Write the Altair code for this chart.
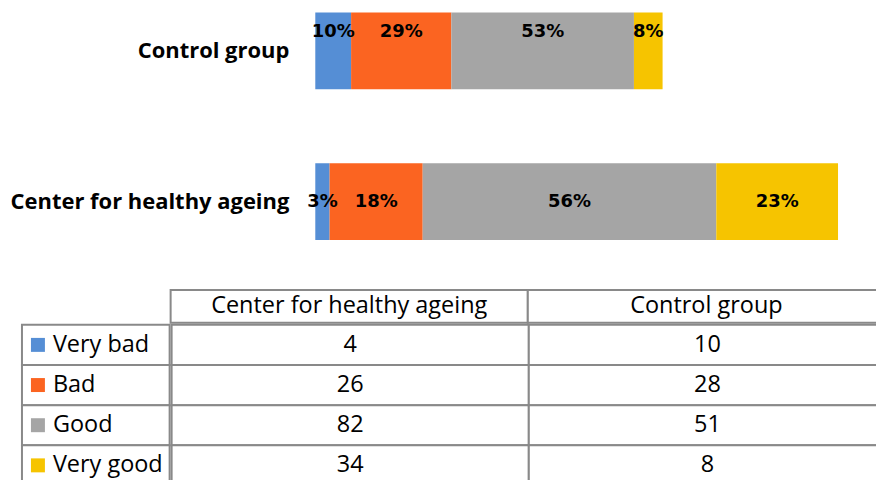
import altair as alt
import pandas as pd

groups = ["Control group", "Center for healthy ageing"]
table_cols = ["Center for healthy ageing", "Control group"]
ratings = ["Very bad", "Bad", "Good", "Very good"]
center_vals = [4, 26, 82, 34]
control_vals = [10, 28, 51, 8]
colors = ["#558ED5", "#FB6421", "#A5A5A5", "#F6C400"]

values_by_group = {"Center for healthy ageing": center_vals, "Control group": control_vals}

rows = []
for g in groups:
    for i, r in enumerate(ratings):
        rows.append({"group": g, "rating": r, "value": values_by_group[g][i], "order": i})
df = pd.DataFrame(rows)
gdf = pd.DataFrame({"group": groups})

color_scale = alt.Scale(domain=ratings, range=colors)
line_color = "#898989"

# ---------------- stacked bars ----------------
yscale = alt.Scale(type="band", domain=groups, paddingInner=0.49, paddingOuter=0.026)
ybar = alt.Y("group:N", sort=groups, scale=yscale, axis=None)
xscale = alt.Scale(domain=[0, 158], nice=False, zero=True)

bars = alt.Chart(df).mark_bar().encode(
    y=ybar,
    x=alt.X("value:Q", stack="zero", scale=xscale, axis=None),
    color=alt.Color("rating:N", scale=color_scale, legend=None),
    order=alt.Order("order:Q"),
)

pct_base = alt.Chart(df).transform_joinaggregate(
    total="sum(value)", groupby=["group"]
).transform_calculate(
    pct="datum.value / datum.total"
).transform_stack(
    stack="value", groupby=["group"], sort=[alt.SortField("order")], as_=["x0", "x1"]
).transform_calculate(
    mid="(datum.x0 + datum.x1) / 2"
).encode(
    y=ybar,
    x=alt.X("mid:Q", scale=xscale),
    text=alt.Text("pct:Q", format=".0%"),
)
txt_style = dict(font="DejaVu Sans", fontWeight="bold", fontSize=18, color="black",
                 align="center", baseline="middle")
pct_control = pct_base.transform_filter(alt.datum.group == "Control group").mark_text(dy=-19, **txt_style)
pct_center = pct_base.transform_filter(alt.datum.group != "Control group").mark_text(**txt_style)

bar_chart = (bars + pct_control + pct_center).properties(width=567, height=236)

group_labels = alt.Chart(gdf).mark_text(
    font="Open Sans", fontWeight="bold", fontSize=22, color="black",
    align="right", baseline="middle"
).encode(
    y=ybar,
    x=alt.value(282),
    text="group:N",
).properties(width=308, height=236)

top_row = alt.hconcat(group_labels, bar_chart, spacing=0, bounds="flush")

# ---------------- data table ----------------
hdf = pd.DataFrame({"col": table_cols, "row": ["header"] * len(table_cols)})
tdf = pd.DataFrame([
    {"col": c, "rating": r, "value": values_by_group[c][i]}
    for c in table_cols for i, r in enumerate(ratings)
])
ldf = pd.DataFrame({"rating": ratings, "col": ["label"] * len(ratings)})

band0 = alt.Scale(paddingInner=0, paddingOuter=0)
xcol = alt.X("col:N", sort=table_cols, scale=band0, axis=None)
font_tbl = dict(font="Open Sans", fontSize=23.5, color="black", baseline="middle")

corner = alt.Chart(hdf).mark_text().encode(text=alt.value("")).properties(width=162, height=33)

hbase = alt.Chart(hdf).encode(x=xcol, y=alt.Y("row:N", scale=band0, axis=None))
header = (
    hbase.mark_rect(fill="white", stroke=line_color, strokeWidth=2)
    + hbase.mark_text(**font_tbl).encode(text="col:N")
).properties(width=716, height=33)

yrow = alt.Y("rating:N", sort=ratings, scale=band0, axis=None)

lbase = alt.Chart(ldf).encode(
    x=alt.X("col:N", scale=alt.Scale(range=[14, 162], paddingInner=0, paddingOuter=0), axis=None),
    y=yrow,
)
label_col = (
    lbase.mark_rect(fill="white", stroke=line_color, strokeWidth=2)
    + lbase.mark_square(size=196, opacity=1, xOffset=-58).encode(
        color=alt.Color("rating:N", scale=color_scale, legend=None))
    + lbase.mark_text(align="left", dx=-43, **font_tbl).encode(text="rating:N")
).properties(width=162, height=161)

vbase = alt.Chart(tdf).encode(x=xcol, y=yrow)
values_tbl = (
    vbase.mark_rect(fill="white", stroke=line_color, strokeWidth=2)
    + vbase.mark_text(**font_tbl).encode(text="value:Q")
).properties(width=716, height=161)

table = alt.vconcat(
    alt.hconcat(corner, header, spacing=0),
    alt.hconcat(label_col, values_tbl, spacing=0),
    spacing=0,
)

chart = alt.vconcat(top_row, table, spacing=45).properties(
    padding={"left": 0, "top": 0, "right": -11, "bottom": -7}
).configure_view(strokeWidth=0)

chart.save("out.html", embed_options={"renderer": "svg", "actions": False})
